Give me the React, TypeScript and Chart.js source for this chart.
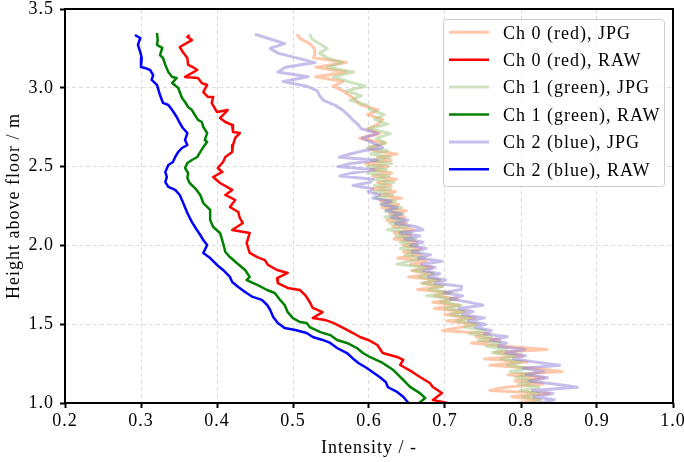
import React, { useEffect, useRef } from 'react';
import { Chart, registerables } from 'chart.js';

Chart.register(...registerables);

const FONT = '"Liberation Serif", "Times New Roman", serif';

// Tick settings
const xMin = 0.2;
const xMax = 1.0;
const xStep = 0.1;
const yMin = 1.0;
const yMax = 3.5;
const yStep = 0.5;

const xTitle = 'Intensity / -';
const yTitle = 'Height above floor / m';

const seriesLabels = [
  'Ch 0 (red), JPG',
  'Ch 0 (red), RAW',
  'Ch 1 (green), JPG',
  'Ch 1 (green), RAW',
  'Ch 2 (blue), JPG',
  'Ch 2 (blue), RAW',
];

// RAW profiles: [intensity, height]
const ch0Raw: [number, number][] = [
  [0.364, 3.335], [0.361, 3.322], [0.367, 3.303], [0.351, 3.259], [0.355, 3.227], [0.361, 3.189],
  [0.362, 3.145], [0.368, 3.132], [0.374, 3.113], [0.358, 3.069], [0.375, 3.062], [0.380, 3.030],
  [0.387, 3.018], [0.382, 2.973], [0.388, 2.942], [0.395, 2.942], [0.393, 2.904], [0.400, 2.846],
  [0.414, 2.859], [0.404, 2.808], [0.411, 2.783], [0.420, 2.764], [0.421, 2.720], [0.430, 2.713],
  [0.424, 2.682], [0.421, 2.637], [0.420, 2.593], [0.411, 2.561], [0.408, 2.529], [0.401, 2.491],
  [0.407, 2.466], [0.395, 2.434], [0.404, 2.396], [0.420, 2.352], [0.411, 2.320], [0.424, 2.288],
  [0.417, 2.244], [0.428, 2.212], [0.430, 2.174], [0.434, 2.142], [0.420, 2.098], [0.443, 2.079],
  [0.439, 2.015], [0.443, 1.952], [0.453, 1.926], [0.463, 1.907], [0.467, 1.876], [0.479, 1.844],
  [0.493, 1.825], [0.479, 1.793], [0.480, 1.761], [0.493, 1.730], [0.509, 1.717], [0.516, 1.685],
  [0.522, 1.641], [0.526, 1.603], [0.539, 1.577], [0.526, 1.539], [0.542, 1.527], [0.553, 1.508],
  [0.566, 1.476], [0.579, 1.444], [0.588, 1.419], [0.599, 1.400], [0.611, 1.368], [0.618, 1.317],
  [0.637, 1.292], [0.645, 1.273], [0.641, 1.241], [0.657, 1.197], [0.667, 1.165], [0.680, 1.127],
  [0.684, 1.102], [0.696, 1.063], [0.684, 1.019], [0.703, 1.000],
];

const ch1Raw: [number, number][] = [
  [0.321, 3.348], [0.322, 3.303], [0.321, 3.272], [0.328, 3.253], [0.325, 3.208], [0.329, 3.189],
  [0.332, 3.145], [0.336, 3.100], [0.341, 3.069], [0.347, 3.062], [0.341, 3.030], [0.349, 2.999],
  [0.354, 2.935], [0.358, 2.910], [0.362, 2.878], [0.367, 2.859], [0.371, 2.827], [0.375, 2.796],
  [0.380, 2.783], [0.382, 2.751], [0.387, 2.713], [0.384, 2.669], [0.387, 2.656], [0.382, 2.624],
  [0.378, 2.593], [0.374, 2.561], [0.367, 2.542], [0.361, 2.523], [0.358, 2.491], [0.362, 2.459],
  [0.361, 2.428], [0.364, 2.396], [0.371, 2.364], [0.378, 2.320], [0.382, 2.269], [0.391, 2.225],
  [0.391, 2.161], [0.395, 2.117], [0.404, 2.079], [0.408, 2.015], [0.411, 1.958], [0.417, 1.926],
  [0.426, 1.888], [0.437, 1.844], [0.443, 1.800], [0.439, 1.780], [0.453, 1.749], [0.466, 1.717],
  [0.476, 1.698], [0.483, 1.654], [0.489, 1.622], [0.493, 1.577], [0.500, 1.539], [0.509, 1.514],
  [0.518, 1.508], [0.522, 1.482], [0.536, 1.450], [0.549, 1.431], [0.558, 1.400], [0.571, 1.381],
  [0.584, 1.349], [0.592, 1.317], [0.601, 1.292], [0.618, 1.254], [0.632, 1.209], [0.645, 1.146],
  [0.654, 1.102], [0.667, 1.063], [0.674, 1.032], [0.666, 1.000],
];

const ch2Raw: [number, number][] = [
  [0.292, 3.335], [0.299, 3.316], [0.296, 3.272], [0.299, 3.227], [0.301, 3.189], [0.300, 3.132],
  [0.305, 3.126], [0.312, 3.113], [0.316, 3.081], [0.314, 3.050], [0.321, 3.018], [0.325, 2.954],
  [0.329, 2.904], [0.336, 2.891], [0.341, 2.859], [0.347, 2.815], [0.351, 2.777], [0.355, 2.745],
  [0.361, 2.713], [0.358, 2.669], [0.361, 2.637], [0.354, 2.618], [0.349, 2.593], [0.345, 2.561],
  [0.342, 2.529], [0.336, 2.510], [0.332, 2.466], [0.334, 2.434], [0.332, 2.402], [0.336, 2.371],
  [0.345, 2.352], [0.351, 2.320], [0.355, 2.275], [0.361, 2.206], [0.367, 2.148], [0.371, 2.117],
  [0.378, 2.066], [0.382, 2.034], [0.387, 2.003], [0.382, 1.952], [0.391, 1.920], [0.400, 1.876],
  [0.408, 1.844], [0.417, 1.800], [0.420, 1.768], [0.428, 1.736], [0.437, 1.704], [0.447, 1.673],
  [0.459, 1.654], [0.466, 1.622], [0.470, 1.590], [0.474, 1.546], [0.480, 1.508], [0.489, 1.476],
  [0.503, 1.463], [0.518, 1.444], [0.526, 1.419], [0.539, 1.400], [0.549, 1.381], [0.558, 1.349],
  [0.571, 1.317], [0.578, 1.286], [0.586, 1.254], [0.597, 1.222], [0.614, 1.165], [0.622, 1.133],
  [0.625, 1.100], [0.637, 1.070], [0.645, 1.040], [0.652, 1.000],
];

// JPG profiles share one height grid
const jpgHeights = [
  3.34, 3.31, 3.28, 3.25, 3.22, 3.19, 3.16, 3.13, 3.10, 3.07, 3.04, 3.01, 2.98, 2.95, 2.92, 2.89,
  2.86, 2.83, 2.80, 2.77, 2.74, 2.71, 2.68, 2.65, 2.62,
  2.60, 2.58, 2.56, 2.54, 2.52, 2.50, 2.48, 2.46, 2.44, 2.42, 2.40, 2.38, 2.36, 2.34, 2.32, 2.30,
  2.28, 2.26, 2.24, 2.22, 2.20, 2.18, 2.16, 2.14, 2.12, 2.10, 2.08, 2.06, 2.04, 2.02, 2.00, 1.98,
  1.96, 1.94, 1.92, 1.90, 1.88, 1.86, 1.84, 1.82, 1.80, 1.78, 1.76, 1.74, 1.72, 1.70, 1.68, 1.66,
  1.64, 1.62, 1.60, 1.58, 1.56, 1.54, 1.52, 1.50, 1.48, 1.46, 1.44, 1.42, 1.40, 1.38, 1.36, 1.34,
  1.32, 1.30, 1.28, 1.26, 1.24, 1.22, 1.20, 1.18, 1.16, 1.14, 1.12, 1.10, 1.08, 1.06, 1.04, 1.02,
  1.00,
];

const ch0Jpg = [
  0.505, 0.51, 0.522, 0.528, 0.529, 0.527, 0.57, 0.53, 0.57, 0.53, 0.566, 0.553, 0.566, 0.575, 0.583, 0.59,
  0.612, 0.598, 0.618, 0.612, 0.598, 0.614, 0.588, 0.621, 0.60,
  0.607, 0.637, 0.611, 0.629, 0.596, 0.625, 0.602, 0.630, 0.605, 0.636, 0.611, 0.629, 0.605, 0.635, 0.615, 0.643,
  0.615, 0.639, 0.617, 0.649, 0.627, 0.647, 0.623, 0.649, 0.631, 0.659, 0.633, 0.655, 0.633, 0.663, 0.645, 0.669,
  0.645, 0.669, 0.638, 0.675, 0.655, 0.683, 0.656, 0.683, 0.652, 0.693, 0.671, 0.697, 0.664, 0.707, 0.687, 0.717,
  0.684, 0.719, 0.686, 0.727, 0.700, 0.739, 0.703, 0.741, 0.720, 0.697, 0.758, 0.741, 0.772, 0.735, 0.778, 0.834,
  0.766, 0.801, 0.752, 0.808, 0.759, 0.817, 0.854, 0.783, 0.830, 0.792, 0.829, 0.780, 0.759, 0.837, 0.788, 0.824,
  0.795,
];

const ch1Jpg = [
  0.522, 0.525, 0.535, 0.545, 0.535, 0.545, 0.565, 0.545, 0.58, 0.553, 0.572, 0.595, 0.57, 0.59, 0.575, 0.598,
  0.602, 0.62, 0.607, 0.625, 0.60, 0.628, 0.61, 0.622, 0.598,
  0.625, 0.602, 0.628, 0.603, 0.630, 0.598, 0.623, 0.598, 0.627, 0.607, 0.633, 0.607, 0.629, 0.607, 0.631, 0.609,
  0.635, 0.615, 0.643, 0.621, 0.645, 0.621, 0.647, 0.627, 0.653, 0.624, 0.655, 0.635, 0.661, 0.641, 0.663, 0.641,
  0.665, 0.647, 0.673, 0.653, 0.637, 0.677, 0.658, 0.685, 0.666, 0.691, 0.669, 0.697, 0.679, 0.707, 0.676, 0.713,
  0.694, 0.721, 0.700, 0.725, 0.707, 0.735, 0.715, 0.743, 0.726, 0.753, 0.732, 0.761, 0.744, 0.773, 0.754, 0.781,
  0.762, 0.793, 0.774, 0.800, 0.782, 0.809, 0.786, 0.815, 0.793, 0.819, 0.797, 0.824, 0.799, 0.824, 0.803, 0.826,
  0.810,
];

const ch2Jpg = [
  0.45, 0.47, 0.489, 0.47, 0.48, 0.505, 0.529, 0.49, 0.48, 0.52, 0.487, 0.518, 0.532, 0.535, 0.54, 0.555,
  0.565, 0.572, 0.578, 0.585, 0.59, 0.611, 0.591, 0.605, 0.618,
  0.592, 0.575, 0.561, 0.611, 0.576, 0.559, 0.607, 0.578, 0.562, 0.605, 0.601, 0.579, 0.605, 0.599, 0.614, 0.605,
  0.629, 0.617, 0.637, 0.623, 0.643, 0.629, 0.651, 0.635, 0.661, 0.671, 0.641, 0.667, 0.647, 0.671, 0.655, 0.675,
  0.657, 0.681, 0.665, 0.696, 0.669, 0.687, 0.672, 0.693, 0.678, 0.701, 0.687, 0.722, 0.721, 0.699, 0.723, 0.707,
  0.731, 0.750, 0.718, 0.737, 0.723, 0.752, 0.731, 0.753, 0.740, 0.761, 0.752, 0.782, 0.760, 0.781, 0.770, 0.805,
  0.780, 0.806, 0.790, 0.818, 0.851, 0.803, 0.830, 0.807, 0.835, 0.811, 0.844, 0.874, 0.815, 0.842, 0.817, 0.844,
  0.825,
];

const colors = [
  'rgba(255,145,85,0.5)',
  '#ff0000',
  'rgba(160,200,130,0.5)',
  '#008000',
  'rgba(145,125,215,0.5)',
  '#0000ff',
];
const widths = [3, 2.5, 3, 2.5, 3, 2.5];

export default function App() {
  const ref = useRef<HTMLCanvasElement>(null);

  useEffect(() => {
    if (!ref.current) return;
    const fromPairs = (p: [number, number][]) => p.map(([x, y]) => ({ x, y }));
    const fromJpg = (xs: number[]) => xs.map((x, i) => ({ x, y: jpgHeights[i] }));
    const seriesData = [
      fromJpg(ch0Jpg),
      fromPairs(ch0Raw),
      fromJpg(ch1Jpg),
      fromPairs(ch1Raw),
      fromJpg(ch2Jpg),
      fromPairs(ch2Raw),
    ];
    const datasets = seriesData.map((d, i) => ({
      label: seriesLabels[i],
      data: d,
      showLine: true,
      borderColor: colors[i],
      backgroundColor: colors[i],
      borderWidth: widths[i],
      borderJoinStyle: 'round' as const,
      pointRadius: 0,
      tension: 0,
      order: 5 - i,
    }));

    const framePlugin = {
      id: 'frameAndLegend',
      beforeDraw(chart: any) {
        (chart.ctx as any).letterSpacing = '1px';
      },
      afterDatasetsDraw(chart: any) {
        const { ctx, chartArea: a } = chart;
        ctx.save();
        ctx.strokeStyle = '#000';
        ctx.lineWidth = 2;
        ctx.strokeRect(a.left, a.top, a.right - a.left, a.bottom - a.top);
        ctx.restore();
      },
      afterDraw(chart: any) {
        const { ctx } = chart;
        ctx.save();
        ctx.beginPath();
        ctx.roundRect(443.5, 19.5, 221, 167, 3);
        ctx.fillStyle = 'rgba(255,255,255,0.8)';
        ctx.fill();
        ctx.strokeStyle = '#cccccc';
        ctx.lineWidth = 1;
        ctx.stroke();
        ctx.font = `18px ${FONT}`;
        ctx.fillStyle = '#000';
        ctx.textBaseline = 'middle';
        ctx.textAlign = 'left';
        seriesLabels.forEach((lab, i) => {
          const y = 32.3 + 27.4 * i;
          ctx.beginPath();
          ctx.strokeStyle = colors[i];
          ctx.lineWidth = widths[i];
          ctx.moveTo(449, y);
          ctx.lineTo(489, y);
          ctx.stroke();
          ctx.fillText(lab, 503, y + 1.5);
        });
        ctx.restore();
      },
    };

    const chart = new Chart(ref.current, {
      type: 'scatter',
      data: { datasets },
      options: {
        responsive: false,
        animation: false,
        devicePixelRatio: 1,
        layout: { padding: { left: 0, right: 11, top: 9, bottom: 0 } },
        plugins: { legend: { display: false }, tooltip: { enabled: false } },
        scales: {
          x: {
            type: 'linear',
            min: xMin,
            max: xMax,
            afterFit: (s: any) => {
              s.height = 59;
              s.paddingLeft = 0;
              s.paddingRight = 0;
            },
            ticks: {
              stepSize: xStep,
              callback: (v: any) => Number(v).toFixed(1),
              font: { family: FONT, size: 18 },
              color: '#000',
              padding: 2,
              maxRotation: 0,
              autoSkip: false,
            },
            grid: { color: '#dcdcdc', lineWidth: 1, tickColor: '#000', tickLength: 5, tickWidth: 2 },
            border: { display: false, dash: [4, 3] },
            title: {
              display: true,
              text: xTitle,
              font: { family: FONT, size: 18 },
              color: '#000',
              padding: { top: 0, bottom: 3 },
            },
          },
          y: {
            type: 'linear',
            min: yMin,
            max: yMax,
            afterFit: (s: any) => {
              s.width = 65;
              s.paddingTop = 0;
              s.paddingBottom = 0;
            },
            ticks: {
              stepSize: yStep,
              callback: (v: any) => Number(v).toFixed(1),
              font: { family: FONT, size: 18 },
              color: '#000',
              padding: 6,
              autoSkip: false,
            },
            grid: { color: '#dcdcdc', lineWidth: 1, tickColor: '#000', tickLength: 5, tickWidth: 2 },
            border: { display: false, dash: [4, 3] },
            title: {
              display: true,
              text: yTitle,
              font: { family: FONT, size: 18 },
              color: '#000',
              padding: { top: 3, bottom: 0 },
            },
          },
        },
      } as any,
      plugins: [framePlugin],
    });
    return () => chart.destroy();
  }, []);

  return (
    <div style={{ position: 'fixed', left: 0, top: 0, width: 684, height: 462, background: '#fff' }}>
      <canvas ref={ref} width={684} height={462} style={{ display: 'block', width: 684, height: 462 }} />
    </div>
  );
}
